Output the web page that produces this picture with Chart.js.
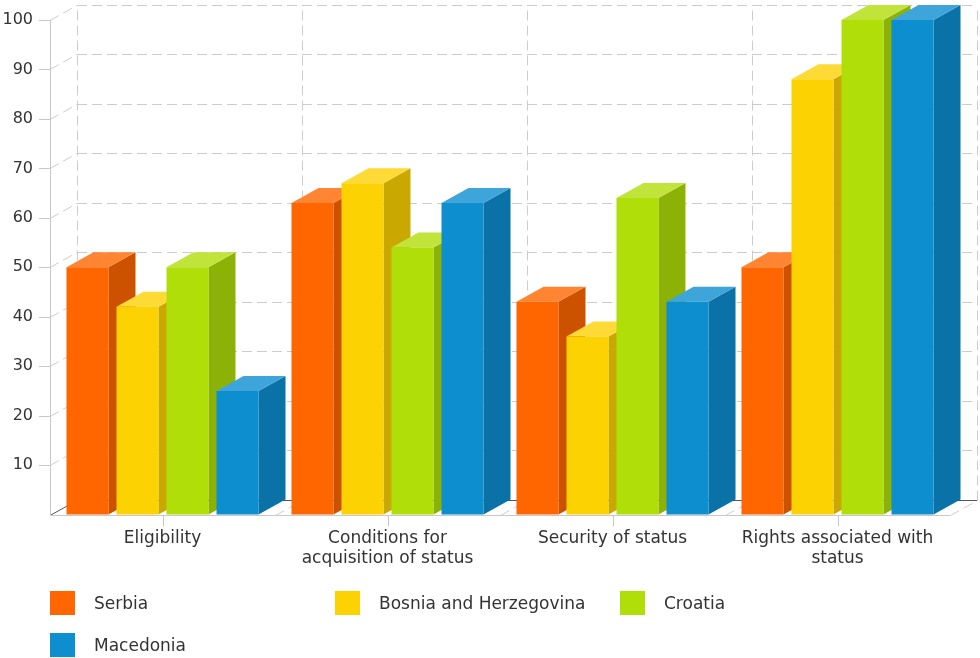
<!DOCTYPE html>
<html>
<head>
<meta charset="utf-8">
<script src="https://cdn.jsdelivr.net/npm/chart.js@4/dist/chart.umd.min.js"></script>
<style>
  html, body { margin: 0; padding: 0; background: #fff; }
  #chart { display: block; }
</style>
</head>
<body>
<canvas id="chart" width="980" height="658"></canvas>
<script>
const categories = [
    ["Eligibility"],
    ["Conditions for", "acquisition of status"],
    ["Security of status"],
    ["Rights associated with", "status"]
];
const seriesNames = ["Serbia", "Bosnia and Herzegovina", "Croatia", "Macedonia"];
const serbia = [50, 63, 43, 50];
const bosnia = [42, 67, 36, 88];
const croatia = [50, 54, 64, 100];
const macedonia = [25, 63, 43, 100];
const yTicks = [0, 10, 20, 30, 40, 50, 60, 70, 80, 90, 100];

const frontColors = ["#FF6600", "#FCD202", "#B0DE09", "#0D8ECF"];
const topColors = ["#FF8533", "#FDDA35", "#C0E43A", "#3DA5D9"];
const sideColors = ["#CC5200", "#CAA802", "#8DB207", "#0A72A6"];

const DX = 27, DY = -15;
const gridColor = "#cccccc";
const axisColor = "#c8c8c8";

function line(ctx, x1, y1, x2, y2) {
    ctx.beginPath();
    ctx.moveTo(x1, y1);
    ctx.lineTo(x2, y2);
    ctx.stroke();
}

function poly(ctx, pts, color) {
    ctx.beginPath();
    ctx.moveTo(pts[0][0], pts[0][1]);
    for (let i = 1; i < pts.length; i++) ctx.lineTo(pts[i][0], pts[i][1]);
    ctx.closePath();
    ctx.fillStyle = color;
    ctx.fill();
}

// fake 3d: back walls, floor and the extruded bars
const threeD = {
    id: "threeD",
    beforeDatasetsDraw(chart) {
        const ctx = chart.ctx;
        const a = chart.chartArea;
        const y = chart.scales.y;
        const catW = (a.right - a.left) / categories.length;
        const bottom = Math.round(a.bottom) + 0.5;
        ctx.save();
        ctx.lineWidth = 1;
        ctx.strokeStyle = gridColor;
        ctx.setLineDash([10, 5]);
        yTicks.forEach(v => {
            if (v === 0) return;
            const py = Math.round(y.getPixelForValue(v)) + 0.5;
            line(ctx, a.left, py, a.left + DX, py + DY);
            line(ctx, a.left + DX, py + DY, a.right + DX, py + DY);
        });
        for (let i = 0; i <= categories.length; i++) {
            const px = Math.round(a.left + catW * i) + 0.5;
            line(ctx, px + DX, bottom + DY, px + DX, Math.round(a.top) + 0.5 + DY);
            if (i > 0) line(ctx, px, bottom, px + DX, bottom + DY);
        }
        ctx.setLineDash([]);
        ctx.strokeStyle = "#555";
        line(ctx, a.left, bottom, a.left + DX, bottom + DY);
        line(ctx, a.left + DX, bottom + DY, a.right + DX, bottom + DY);

        // bars, left to right so each front hides the previous side
        for (let i = 0; i < categories.length; i++) {
            chart.data.datasets.forEach((ds, j) => {
                const el = chart.getDatasetMeta(j).data[i];
                const l = el.x - el.width / 2, r = el.x + el.width / 2;
                const t = el.y, b = el.base;
                poly(ctx, [[r, b], [r + DX, b + DY], [r + DX, t + DY], [r, t]], sideColors[j]);
                poly(ctx, [[l, t], [l + DX, t + DY], [r + DX, t + DY], [r, t]], topColors[j]);
                poly(ctx, [[l, t], [r, t], [r, b], [l, b]], frontColors[j]);
            });
        }
        ctx.restore();
        return false;
    },
    afterDraw(chart) {
        const ctx = chart.ctx;
        const a = chart.chartArea;
        const x = chart.scales.x, y = chart.scales.y;
        const bottom = Math.round(a.bottom) + 0.5;
        const left = Math.round(a.left) + 0.5;
        ctx.save();
        ctx.lineWidth = 1;
        ctx.strokeStyle = axisColor;
        line(ctx, left, a.top, left, bottom);
        line(ctx, a.left, bottom, a.right, bottom);
        yTicks.forEach(v => {
            if (v === 0) return;
            const py = Math.round(y.getPixelForValue(v)) + 0.5;
            line(ctx, a.left - 11, py, a.left, py);
        });
        categories.forEach((c, i) => {
            const px = Math.round(x.getPixelForValue(i)) + 0.5;
            line(ctx, px, bottom, px, bottom + 11);
        });

        // legend, fixed columns like the original
        ctx.font = "17px 'DejaVu Sans', Verdana, sans-serif";
        ctx.textBaseline = "middle";
        ctx.textAlign = "left";
        seriesNames.forEach((name, j) => {
            const lx = 50 + (j % 3) * 285;
            const ly = 603 + Math.floor(j / 3) * 42;
            ctx.fillStyle = frontColors[j];
            ctx.fillRect(lx, ly - 12, 25, 24);
            ctx.fillStyle = "#333";
            ctx.fillText(name, lx + 44, ly + 2);
        });
        ctx.restore();
    }
};

Chart.defaults.font.family = "'DejaVu Sans', Verdana, sans-serif";
Chart.defaults.color = "#333";

const chart = new Chart(document.getElementById("chart"), {
    type: "bar",
    data: {
        labels: categories,
        datasets: [
            { label: seriesNames[0], data: serbia, backgroundColor: frontColors[0] },
            { label: seriesNames[1], data: bosnia, backgroundColor: frontColors[1] },
            { label: seriesNames[2], data: croatia, backgroundColor: frontColors[2] },
            { label: seriesNames[3], data: macedonia, backgroundColor: frontColors[3] }
        ]
    },
    options: {
        responsive: false,
        animation: false,
        devicePixelRatio: 1,
        categoryPercentage: 0.889,
        barPercentage: 0.84,
        layout: { padding: { top: 20, right: 30, bottom: 83.5, left: 0 } },
        plugins: {
            legend: { display: false },
            tooltip: { enabled: false }
        },
        scales: {
            x: {
                grid: { display: false, drawTicks: false },
                border: { display: false },
                ticks: {
                    font: { size: 17, lineHeight: "20px" },
                    padding: 14,
                    maxRotation: 0,
                    autoSkip: false
                },
                afterFit(s) { s.height = 60; s.paddingLeft = 0; s.paddingRight = 0; }
            },
            y: {
                min: 0,
                max: 100,
                grid: { display: false, drawTicks: false },
                border: { display: false },
                ticks: {
                    stepSize: 10,
                    font: { size: 16 },
                    padding: 17,
                    callback: v => (v === 0 ? "" : v)
                },
                afterFit(s) { s.width = 50; s.paddingTop = 0; s.paddingBottom = 0; }
            }
        }
    },
    plugins: [threeD]
});
</script>
</body>
</html>
